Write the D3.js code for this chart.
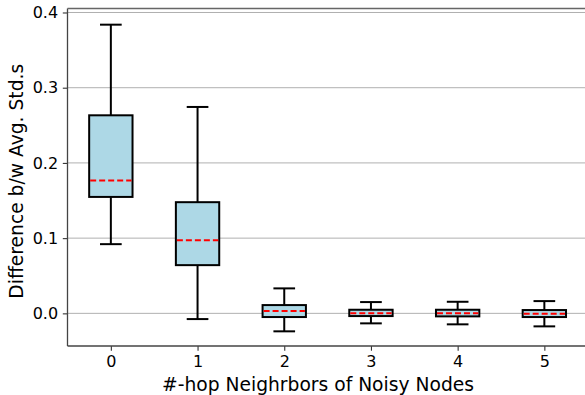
<!DOCTYPE html>
<html>
<head>
<meta charset="utf-8">
<script src="https://cdn.jsdelivr.net/npm/d3@7"></script>
<style>
  body { margin: 0; background: #fff; }
  svg { display: block; }
  text { font-family: "DejaVu Sans", sans-serif; fill: #000; }
</style>
</head>
<body>
<svg id="chart" width="585" height="395"></svg>
<script>
// ---- data ----
const categories = ["0", "1", "2", "3", "4", "5"];
const whiskerLow  = [0.092, -0.0076, -0.0239, -0.0133, -0.0146, -0.0173];
const q1          = [0.1548, 0.0641, -0.0049, -0.0036, -0.0040, -0.0049];
const medians     = [0.1766, 0.0973, 0.0030, 0.0000, 0.0000, -0.0005];
const q3          = [0.2633, 0.1478, 0.0110, 0.0048, 0.0048, 0.0044];
const whiskerHigh = [0.3838, 0.2744, 0.0332, 0.0150, 0.0154, 0.0163];
const yTicks = [0.0, 0.1, 0.2, 0.3, 0.4];
const xLabel = "#-hop Neighrbors of Noisy Nodes";
const yLabel = "Difference b/w Avg. Std.s";

const boxes = categories.map((c, i) => ({
  cat: c, i, lo: whiskerLow[i], q1: q1[i], med: medians[i], q3: q3[i], hi: whiskerHigh[i]
}));

const svg = d3.select("#chart");
const mLeft = 67.5, mRight = 587.7, mTop = 8.5, mBottom = 346;

const x = d3.scaleLinear().domain([-0.5, categories.length - 0.5]).range([mLeft, mRight]);
const y = d3.scaleLinear().domain([-0.0434, 0.4053]).range([mBottom, mTop]);

const boxW = 0.5, capW = 0.25;

// grid
svg.append("g").selectAll("line").data(yTicks).join("line")
  .attr("x1", mLeft).attr("x2", mRight)
  .attr("y1", d => y(d)).attr("y2", d => y(d))
  .attr("stroke", "#b0b0b0").attr("stroke-width", 1);

// boxes
const g = svg.append("g");
boxes.forEach(b => {
  const cx = x(b.i);
  g.append("line").attr("x1", cx).attr("x2", cx).attr("y1", y(b.q3)).attr("y2", y(b.hi))
    .attr("stroke", "#000").attr("stroke-width", 2);
  g.append("line").attr("x1", cx).attr("x2", cx).attr("y1", y(b.q1)).attr("y2", y(b.lo))
    .attr("stroke", "#000").attr("stroke-width", 2);
  [b.hi, b.lo].forEach(v => {
    g.append("line").attr("x1", x(b.i - capW / 2)).attr("x2", x(b.i + capW / 2))
      .attr("y1", y(v)).attr("y2", y(v)).attr("stroke", "#000").attr("stroke-width", 2);
  });
  g.append("rect").attr("x", x(b.i - boxW / 2)).attr("width", x(b.i + boxW / 2) - x(b.i - boxW / 2))
    .attr("y", y(b.q3)).attr("height", y(b.q1) - y(b.q3))
    .attr("fill", "#add8e6").attr("stroke", "#000").attr("stroke-width", 2);
  g.append("line").attr("x1", x(b.i - boxW / 2) + 1).attr("x2", x(b.i + boxW / 2) - 1)
    .attr("y1", y(b.med)).attr("y2", y(b.med))
    .attr("stroke", "#ff0000").attr("stroke-width", 2).attr("stroke-dasharray", "6,3");
});

// axes
const yAxis = d3.axisLeft(y).tickValues(yTicks).tickFormat(d3.format(".1f")).tickSize(4.7).tickPadding(4.7);
const ya = svg.append("g").attr("transform", `translate(${mLeft},0)`).call(yAxis);
const xAxis = d3.axisBottom(x).tickValues(d3.range(categories.length)).tickFormat(i => categories[i]).tickSize(4.7).tickPadding(4.7);
const xa = svg.append("g").attr("transform", `translate(0,${mBottom})`).call(xAxis);
[ya, xa].forEach(a => {
  a.select(".domain").remove();
  a.selectAll(".tick line").attr("stroke", "#333").attr("stroke-width", 1.1);
  a.selectAll(".tick text").style("font-family", "DejaVu Sans").style("font-size", "16px").attr("fill", "#000");
});

// spines
svg.append("line").attr("x1", mLeft).attr("x2", mLeft).attr("y1", mTop).attr("y2", mBottom)
  .attr("stroke", "#444").attr("stroke-width", 1.3);
svg.append("line").attr("x1", mLeft).attr("x2", mRight).attr("y1", mBottom).attr("y2", mBottom)
  .attr("stroke", "#444").attr("stroke-width", 1.3);
svg.append("line").attr("x1", mLeft).attr("x2", mRight).attr("y1", mTop).attr("y2", mTop)
  .attr("stroke", "#666").attr("stroke-width", 1.3);

// labels
svg.append("text").attr("x", 318).attr("y", 391)
  .attr("text-anchor", "middle").style("font-size", "18.7px").text(xLabel);
svg.append("text").attr("transform", `translate(22.5,${(mTop + mBottom) / 2 + 4}) rotate(-90)`)
  .attr("text-anchor", "middle").style("font-size", "18.7px").text(yLabel);
</script>
</body>
</html>
